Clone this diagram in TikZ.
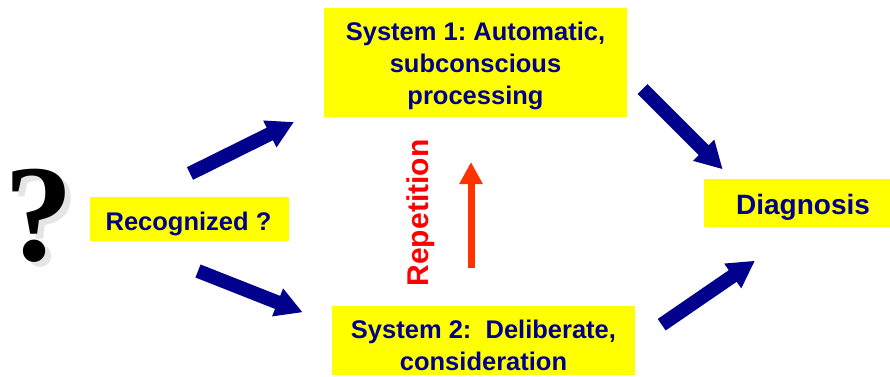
\documentclass[tikz,border=0pt]{standalone}
\usepackage{fontspec}
\setmainfont{Liberation Sans}
\newfontfamily\qfont{Liberation Serif}
\usetikzlibrary{arrows.meta}
\definecolor{navy}{RGB}{0,0,140}
\definecolor{boxyellow}{RGB}{255,255,0}
\definecolor{repred}{RGB}{255,0,0}
\definecolor{arrred}{RGB}{255,51,0}
\frenchspacing
\begin{document}
\begin{tikzpicture}[x=1pt,y=-1pt,
  box/.style={fill=boxyellow, draw=none, inner sep=0pt, outer sep=0pt},
  boxtext/.style={text=navy, inner sep=0pt, align=center,
    font=\fontsize{25.5}{32}\selectfont\bfseries},
  qstyle/.style={anchor=base, inner sep=0pt, font=\fontsize{138}{138}\qfont\bfseries},
  blockarrow/.style={draw=navy, fill=navy, line width=14pt,
    -{Triangle[width=28pt,length=27pt]}},
  reparrow/.style={draw=arrred, fill=arrred, line width=7pt,
    -{Triangle[width=22pt,length=22pt]}}]
\useasboundingbox (0,0) rectangle (890,376);

% question mark with soft shadow
\node[qstyle, text=black!25, opacity=0.4] (qshadow) at (45,265) {?};
\node[qstyle, text=black] (qmark) at (39,260) {?};

% boxes
\node[box, minimum width=199pt, minimum height=44pt] (recog) at (189.5,219) {};
\node[box, minimum width=303pt, minimum height=109pt] (sys1) at (475.5,62.5) {};
\node[box, minimum width=303pt, minimum height=69pt] (sys2) at (483.5,340.5) {};
\node[box, minimum width=186pt, minimum height=48pt] (diag) at (797,203) {};

% texts
\node[boxtext, anchor=base] (recogtext) at (188.5,230) {Recognized ?};
\node[boxtext] (sys1text) at (475.5,65.5) {System 1: Automatic,\\subconscious\\processing};
\node[boxtext] (sys2text) at (483.5,345) {System 2:\ \ Deliberate,\\consideration};
\node[boxtext, anchor=base, font=\fontsize{28}{32}\selectfont\bfseries] (diagtext) at (803,214) {Diagnosis};
\node[rotate=90, anchor=base, inner sep=0pt, text=repred,
  font=\fontsize{30}{32}\selectfont\bfseries] (reptext) at (428,213) {Repetition};

% arrow end points
\coordinate (a1s) at (190,173.5);   \coordinate (a1e) at (294,122);
\coordinate (a2s) at (198,271);     \coordinate (a2e) at (302.7,312.3);
\coordinate (a3s) at (642.5,89);    \coordinate (a3e) at (722.7,169.3);
\coordinate (a4s) at (661.7,324.7); \coordinate (a4e) at (755,260.7);
\coordinate (rs) at (471,268);      \coordinate (re) at (471,162);

\draw[blockarrow] (a1s) -- (a1e);
\draw[blockarrow] (a2s) -- (a2e);
\draw[blockarrow] (a3s) -- (a3e);
\draw[blockarrow] (a4s) -- (a4e);
\draw[reparrow] (rs) -- (re);
\end{tikzpicture}
\end{document}
